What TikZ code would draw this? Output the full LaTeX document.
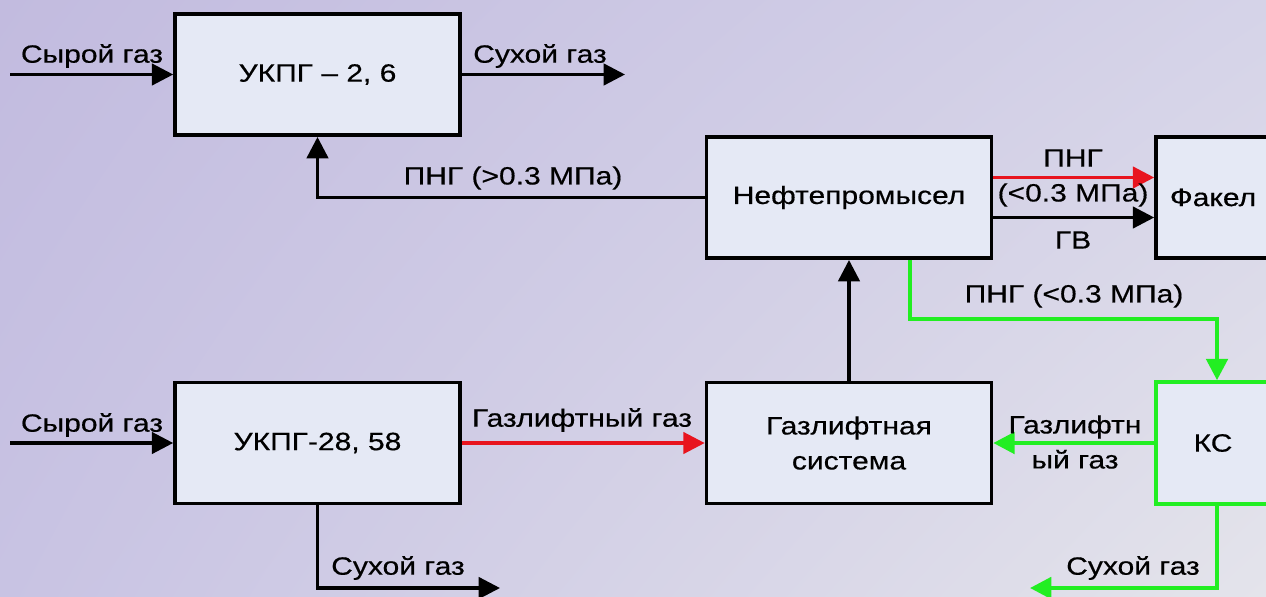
\documentclass[tikz,border=0pt]{standalone}
\usepackage{fontspec}
\setmainfont{Liberation Sans}[FakeStretch=1.2,FakeBold=0.45]
\usetikzlibrary{arrows.meta,calc,shadings}
\definecolor{bgTL}{HTML}{C2BBDF}
\definecolor{bgTR}{HTML}{D5D3E8}
\definecolor{bgBL}{HTML}{C8C3E3}
\definecolor{bgBR}{HTML}{E4E4EB}
\definecolor{boxfill}{HTML}{E5E9F5}
\definecolor{grn}{HTML}{22EE22}
\definecolor{rd}{HTML}{E8141E}
\newcommand\labelfont{\fontsize{18.75}{26.25}\selectfont}
\begin{document}
\begin{tikzpicture}[x=0.75pt,y=-0.75pt,
  box/.style={draw=black, line width=2.7pt, fill=boxfill,
    minimum width=213.75pt, minimum height=91pt, inner sep=0pt,
    font=\labelfont, align=center},
  sidebox/.style={box, minimum width=85.5pt},
  ln/.style={line width=2.5pt, -{Triangle[length=16pt,width=16pt]}},
  gline/.style={ln, draw=grn, line width=3pt, -{Triangle[length=16pt,width=16pt]}},
  rline/.style={ln, draw=rd, fill=rd},
  lbl/.style={inner sep=0pt, font=\labelfont, align=center}]
\useasboundingbox (0,0) rectangle (1266,596);
\clip (0,0) rectangle (1266,596);
\shade[upper left=bgTL, upper right=bgTR, lower left=bgBL, lower right=bgBR]
  (0,0) rectangle (1266,596);

% process blocks
\node[box] (u26) at (317.5,74.5) {УКПГ – 2, 6};
\node[box] (neft) at (849,197.5) {Нефтепромысел};
\node[sidebox] (fak) at (1213,197.5) {Факел};
\node[box] (u28) at (317.5,443) {УКПГ-28, 58};
\node[box] (gl) at (849,443) {Газлифтная\\система};
\node[sidebox, draw=grn, line width=3.2pt] (ks) at (1213,443) {КС};

% free ends of the flows
\coordinate (in1) at (10,74.5);
\coordinate (out1) at (625,74.5);
\coordinate (in2) at (10,443);
\coordinate (out2) at (500,588);
\coordinate (out3) at (1030,588);

% flows
\draw[ln] (in1) -- (u26.west);
\draw[ln] (u26.east) -- (out1);
\draw[ln] (neft.west) -| (u26.south);
\draw[rline] ($(neft.east)+(0,-20)$) -- ($(fak.west)+(0,-20)$);
\draw[ln] ($(neft.east)+(0,20)$) -- ($(fak.west)+(0,20)$);
\draw[gline] ($(neft.south)+(61,0)$) -- ++(0,59) -| ($(ks.north)+(4,0)$);
\draw[ln] (gl.north) -- (neft.south);
\draw[ln] (in2) -- (u28.west);
\draw[rline] (u28.east) -- (gl.west);
\draw[gline] (ks.west) -- (gl.east);
\draw[ln] (u28.south) |- (out2);
\draw[gline] ($(ks.south)+(4,0)$) |- (out3);

% flow labels
\node[lbl] (t1) at (92,56) {Сырой газ};
\node[lbl] (t2) at (540,56) {Сухой газ};
\node[lbl] (t3) at (513,178) {ПНГ (>0.3 МПа)};
\node[lbl] (t4) at (1073,158) {ПНГ};
\node[lbl] (t5) at (1073,195) {(<0.3 МПа)};
\node[lbl] (t6) at (1073,240) {ГВ};
\node[lbl] (t7) at (1074,296) {ПНГ (<0.3 МПа)};
\node[lbl] (t8) at (92,425) {Сырой газ};
\node[lbl] (t9) at (582,420) {Газлифтный газ};
\node[lbl] (t10) at (1075,442) {Газлифтн\\ый газ};
\node[lbl] (t11) at (398,568) {Сухой газ};
\node[lbl] (t12) at (1133,568) {Сухой газ};
\end{tikzpicture}
\end{document}
